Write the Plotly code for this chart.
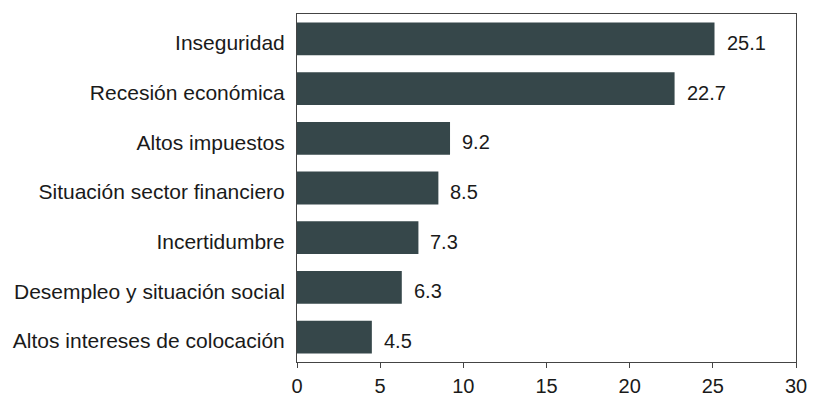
import plotly.graph_objects as go

categories = ["Inseguridad", "Recesión económica", "Altos impuestos",
              "Situación sector financiero", "Incertidumbre",
              "Desempleo y situación social", "Altos intereses de colocación"]
values = [25.1, 22.7, 9.2, 8.5, 7.3, 6.3, 4.5]
value_labels = ["25.1", "22.7", "9.2", "8.5", "7.3", "6.3", "4.5"]
x_ticks = [0, 5, 10, 15, 20, 25, 30]

FONT = "Liberation Sans, Arial"

fig = go.Figure(go.Bar(
    y=categories, x=values, orientation="h",
    marker=dict(color="#36474a", line=dict(width=0)),
    hoverinfo="x+y",
))

for cat, v, lab in zip(categories, values, value_labels):
    fig.add_annotation(
        x=v, y=cat, text=lab, showarrow=False,
        xanchor="left", yanchor="middle", xshift=10, yshift=-4,
        font=dict(size=20, color="#1a1a1a", family=FONT),
    )

fig.update_layout(
    width=812, height=394,
    margin=dict(l=284, r=24, t=5, b=29),
    paper_bgcolor="white", plot_bgcolor="white",
    bargap=0.34,
    showlegend=False,
    font=dict(family=FONT, color="#1a1a1a"),
)
fig.update_xaxes(
    range=[0, 30], tickvals=x_ticks, ticktext=[str(t) for t in x_ticks],
    showgrid=False, zeroline=False,
    showline=True, linecolor="#444444", linewidth=1, mirror=True,
    ticks="outside", ticklen=5, tickcolor="#444444",
    ticklabelstandoff=1,
    tickfont=dict(size=20, color="#1a1a1a"),
)
fig.update_yaxes(
    categoryorder="array", categoryarray=categories[::-1],
    showgrid=False, zeroline=False,
    showline=True, linecolor="#444444", linewidth=1, mirror=True,
    ticks="", ticklabelstandoff=7, ticklabelshift=4,
    tickfont=dict(size=21, color="#1a1a1a"),
)

fig.write_html("out.html")
